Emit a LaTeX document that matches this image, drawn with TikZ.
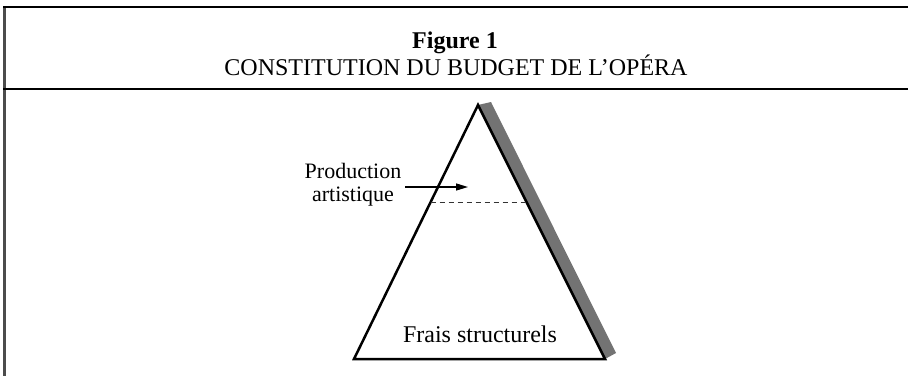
\documentclass[tikz,border=0pt]{standalone}
\usepackage{fontspec}
\setmainfont{Liberation Serif}
\usetikzlibrary{calc,arrows.meta}

\begin{document}
\begin{tikzpicture}[x=1pt,y=1pt]
\tikzstyle{every node}+=[inner sep=0pt]
\tikzstyle{grand}=[font=\fontsize{24}{28}\selectfont]
\tikzstyle{petit}=[font=\fontsize{22}{23}\selectfont]
\useasboundingbox (0,0) rectangle (908,-376);
% cadre
\draw [black!70, line width=3] (4,-6) -- (4,-376);
\draw [black, line width=2] (3,-7) -- (908,-7);
\draw [black, line width=2] (3,-88.5) -- (908,-88.5);
\node (fig) at (455,-48) [anchor=base, font=\fontsize{24}{28}\selectfont\bfseries] {Figure 1};
\node (titre) at (456,-75) [grand, anchor=base] {CONSTITUTION DU BUDGET DE L'OPÉRA};
% pyramide
\coordinate (sommet) at (478,-105);
\coordinate (gauche) at (354,-359);
\coordinate (droite) at (605,-359);
\fill [black!55] (sommet) -- (491,-102) -- (616,-353) -- (droite) -- cycle;
\draw [black, line width=2.5, fill=white] (sommet) -- (gauche) -- (droite) -- cycle;
\draw [black!80, line width=1, dash pattern=on 5pt off 4pt] ($(sommet)!0.382!(gauche)$) -- ($(sommet)!0.382!(droite)$);
\node (prod) at (353,-163) [petit, anchor=north, align=center] {Production\\artistique};
\coordinate (depart) at (405,-187);
\coordinate (pointe) at (468,-187);
\draw [black, line width=1.3, -{Triangle[length=12pt,width=7pt]}] (depart) -- (pointe);
\node (frais) at (480,-342) [grand, anchor=base] {Frais structurels};
\end{tikzpicture}
\end{document}
